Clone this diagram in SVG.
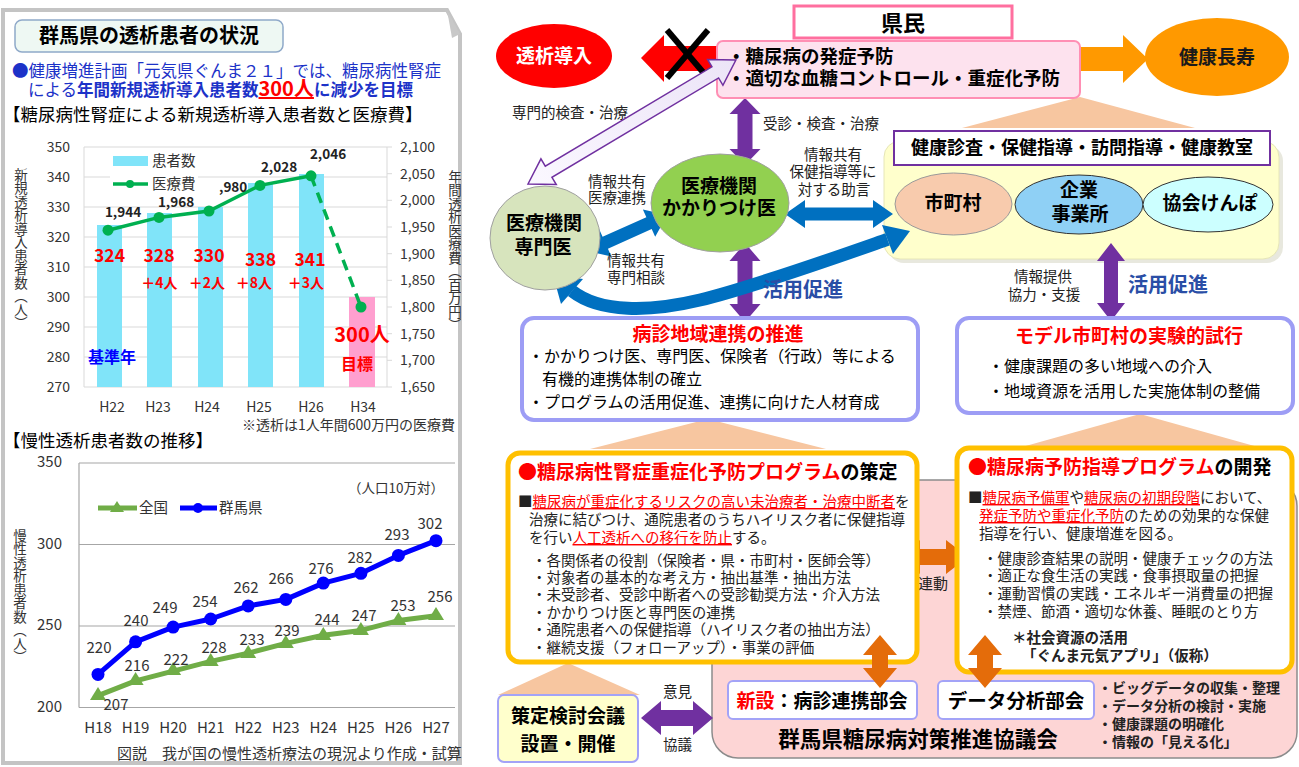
<svg xmlns="http://www.w3.org/2000/svg" width="1299" height="767" viewBox="0 0 1299 767">
<defs>
<style>
text{font-family:"Noto Sans CJK JP","Noto Sans CJK SC",sans-serif}
.b{font-weight:700}
.red{fill:#ff0000}
.ul{text-decoration:underline}
.ax{font-size:14px;fill:#333}
.num{font-size:15px;fill:#333}
.grid{stroke:#d9d9d9;stroke-width:1;fill:none}
.pur{fill:#7030a0}
.blu{fill:#0070c0}
.org{fill:#e46c0a}
.lav{fill:#fff;stroke:#9d9df5;stroke-width:4}
.yel{fill:#fff;stroke:#ffc000;stroke-width:5}
.tri{fill:#f7c6a0}
.vt{writing-mode:vertical-rl}
.lbl{font-size:14.5px;fill:#222}
.promo{font-size:20px;font-weight:700;fill:#2a4ea6}
</style>
<clipPath id="lp"><rect x="0" y="0" width="461" height="767"/></clipPath>
<linearGradient id="hol" x1="0" y1="0" x2="1" y2="0"><stop offset="0" stop-color="#fbf8ff"/><stop offset="1" stop-color="#ece4f7"/></linearGradient>
</defs>

<!-- LEFT PANEL -->
<g id="left-panel">
<path d="M3,10 H447 L460,34 V763 H3 Z" fill="#fff" stroke="#c4c4c4" stroke-width="4"/>
<path d="M447,10 L452,38 L460,34 Z" fill="#c8c8c8"/>
</g>
<g id="panel-title">
<rect x="15" y="20" width="268" height="32" rx="7" fill="#eef8f3" stroke="#8fa9c9" stroke-width="1.5"/>
<text x="149" y="43" text-anchor="middle" class="b" font-size="20">群馬県の透析患者の状況</text>
</g>
<g id="goal-text">
<text x="12" y="77" font-size="16.5" fill="#1c32c8">●健康増進計画「元気県ぐんま２１」では、糖尿病性腎症</text>
<text x="28" y="96" font-size="16.5" fill="#1c32c8">による<tspan class="b">年間新規透析導入患者数</tspan><tspan class="b red ul" font-size="20">300人</tspan><tspan class="b">に減少を目標</tspan></text>
<text x="3" y="121" font-size="17.5">【糖尿病性腎症による新規透析導入患者数と医療費】</text>
</g>

<g id="bar-chart" clip-path="url(#lp)">
<g class="grid">
<line x1="84" y1="147" x2="387" y2="147"/><line x1="84" y1="177" x2="387" y2="177"/><line x1="84" y1="207" x2="387" y2="207"/><line x1="84" y1="237" x2="387" y2="237"/><line x1="84" y1="267" x2="387" y2="267"/><line x1="84" y1="297" x2="387" y2="297"/><line x1="84" y1="327" x2="387" y2="327"/><line x1="84" y1="357" x2="387" y2="357"/><line x1="84" y1="387" x2="387" y2="387"/>
<line x1="84" y1="147" x2="84" y2="387"/><line x1="387" y1="147" x2="387" y2="387"/>
<line x1="387" y1="147" x2="392" y2="147"/><line x1="387" y1="173.7" x2="392" y2="173.7"/><line x1="387" y1="200.3" x2="392" y2="200.3"/><line x1="387" y1="227" x2="392" y2="227"/><line x1="387" y1="253.7" x2="392" y2="253.7"/><line x1="387" y1="280.3" x2="392" y2="280.3"/><line x1="387" y1="307" x2="392" y2="307"/><line x1="387" y1="333.7" x2="392" y2="333.7"/><line x1="387" y1="360.3" x2="392" y2="360.3"/><line x1="387" y1="387" x2="392" y2="387"/>
</g>
<g class="ax" text-anchor="end">
<text x="70" y="152">350</text><text x="70" y="182">340</text><text x="70" y="212">330</text><text x="70" y="242">320</text><text x="70" y="272">310</text><text x="70" y="302">300</text><text x="70" y="332">290</text><text x="70" y="362">280</text><text x="70" y="392">270</text>
</g>
<g class="ax">
<text x="400" y="152">2,100</text><text x="400" y="178.7">2,050</text><text x="400" y="205.3">2,000</text><text x="400" y="232">1,950</text><text x="400" y="258.7">1,900</text><text x="400" y="285.3">1,850</text><text x="400" y="312">1,800</text><text x="400" y="338.7">1,750</text><text x="400" y="365.3">1,700</text><text x="400" y="392">1,650</text>
</g>
<text x="21" y="168" class="vt" font-size="13.5" fill="#333">新規透析導入患者数（人）</text>
<text x="455" y="170" class="vt" font-size="13.5" fill="#333">年間透析医療費（百万円）</text>
<rect x="110" y="150" width="88" height="44" fill="#fff"/>
<g fill="#80e4f9">
<rect x="97" y="225" width="25" height="162"/><rect x="147" y="213" width="25" height="174"/><rect x="198" y="207" width="25" height="180"/><rect x="248" y="183" width="25" height="204"/><rect x="299" y="174" width="25" height="213"/>
<rect x="113" y="156" width="35" height="10"/>
</g>
<rect x="349" y="297" width="26" height="90" fill="#ff9fcf"/>
<text x="152" y="166" font-size="14.5" fill="#333">患者数</text>
<text x="152" y="189" font-size="14.5" fill="#333">医療費</text>
<line x1="113" y1="184" x2="148" y2="184" stroke="#00b050" stroke-width="3.5"/>
<circle cx="130" cy="184" r="4" fill="#00b050"/>
<polyline points="108,230.2 159,217.4 209,211 260,185.4 311,175.8" fill="none" stroke="#00b050" stroke-width="3.5"/>
<line x1="311" y1="175.8" x2="361" y2="307" stroke="#00b050" stroke-width="3.5" stroke-dasharray="11,7"/>
<g fill="#00b050">
<circle cx="108" cy="230.2" r="5.5"/><circle cx="159" cy="217.4" r="5.5"/><circle cx="209" cy="211" r="5.5"/><circle cx="260" cy="185.4" r="5.5"/><circle cx="311" cy="175.8" r="5.5"/><circle cx="361" cy="307" r="5.5"/>
</g>
<g class="b" font-size="13.5" fill="#222" text-anchor="middle">
<text x="123" y="217">1,944</text><text x="176" y="207">1,968</text><text x="279" y="172">2,028</text><text x="328" y="159">2,046</text>
</g>
<text x="219" y="192" class="b" font-size="13.5" fill="#222">,980</text>
<g class="b red" font-size="17.5" text-anchor="middle">
<text x="109.5" y="262">324</text><text x="159" y="262">328</text><text x="209" y="262">330</text><text x="260.5" y="266">338</text><text x="310" y="266">341</text>
</g>
<g class="b red" font-size="14" text-anchor="middle">
<text x="159.5" y="288">＋4人</text><text x="207" y="288">＋2人</text><text x="254" y="288">＋8人</text><text x="306" y="288">＋3人</text>
</g>
<text x="88" y="363" class="b" font-size="16" fill="#0000ff">基準年</text>
<text x="362" y="342" class="b red" font-size="20" text-anchor="middle">300人</text>
<text x="357" y="370" class="b red" font-size="16" text-anchor="middle">目標</text>
<g class="ax" text-anchor="middle">
<text x="112" y="412">H22</text><text x="158" y="412">H23</text><text x="207" y="412">H24</text><text x="259" y="412">H25</text><text x="311" y="412">H26</text><text x="363" y="412">H34</text>
</g>
<text x="242" y="430" font-size="14" fill="#333">※透析は1人年間600万円の医療費</text>
</g>

<g id="line-chart">
<text x="3" y="447" font-size="17.5">【慢性透析患者数の推移】</text>
<g stroke="#a6a6a6" stroke-width="1.2">
<line x1="79" y1="463" x2="455" y2="463"/><line x1="79" y1="544.5" x2="455" y2="544.5"/><line x1="79" y1="626" x2="455" y2="626"/><line x1="79" y1="707.5" x2="455" y2="707.5"/><line x1="79" y1="463" x2="79" y2="707.5"/>
</g>
<g class="num" text-anchor="end">
<text x="62" y="467">350</text><text x="62" y="549">300</text><text x="62" y="630">250</text><text x="62" y="712">200</text>
</g>
<text x="20" y="529" class="vt" font-size="13.5" fill="#333">慢性透析患者数（人）</text>
<text x="348" y="493" font-size="13.5" fill="#333">（人口10万対）</text>
<line x1="98" y1="508" x2="137" y2="508" stroke="#70ad47" stroke-width="5"/>
<polygon points="117,501 124,512 110,512" fill="#70ad47"/>
<text x="139" y="513" font-size="14.5" fill="#333">全国</text>
<line x1="180" y1="508" x2="217" y2="508" stroke="#0000ff" stroke-width="5"/>
<circle cx="198" cy="508" r="5" fill="#0000ff"/>
<text x="219" y="513" font-size="14.5" fill="#333">群馬県</text>
<polyline points="98,695.6 135.6,680.9 173.1,671.1 210.7,661.4 248.2,653.2 285.8,643.4 323.3,635.3 360.9,630.4 398.4,620.6 436,615.7" fill="none" stroke="#70ad47" stroke-width="5" stroke-linejoin="round"/>
<g fill="#70ad47">
<polygon points="98,687 106,700 90,700"/><polygon points="135.6,672 143.6,685 127.6,685"/><polygon points="173.1,662 181.1,675 165.1,675"/><polygon points="210.7,653 218.7,666 202.7,666"/><polygon points="248.2,645 256.2,658 240.2,658"/><polygon points="285.8,635 293.8,648 277.8,648"/><polygon points="323.3,627 331.3,640 315.3,640"/><polygon points="360.9,622 368.9,635 352.9,635"/><polygon points="398.4,612 406.4,625 390.4,625"/><polygon points="436,607 444,620 428,620"/>
</g>
<polyline points="98,674.4 135.6,641.8 173.1,627.1 210.7,619 248.2,605.9 285.8,599.4 323.3,583.1 360.9,573.3 398.4,555.4 436,540.7" fill="none" stroke="#0000ff" stroke-width="5" stroke-linejoin="round"/>
<g fill="#0000ff">
<circle cx="98" cy="674.4" r="6.5"/><circle cx="135.6" cy="641.8" r="6.5"/><circle cx="173.1" cy="627.1" r="6.5"/><circle cx="210.7" cy="619" r="6.5"/><circle cx="248.2" cy="605.9" r="6.5"/><circle cx="285.8" cy="599.4" r="6.5"/><circle cx="323.3" cy="583.1" r="6.5"/><circle cx="360.9" cy="573.3" r="6.5"/><circle cx="398.4" cy="555.4" r="6.5"/><circle cx="436" cy="540.7" r="6.5"/>
</g>
<g class="num" text-anchor="middle">
<text x="99" y="653">220</text><text x="136" y="626">240</text><text x="165" y="613">249</text><text x="205" y="607">254</text><text x="246" y="593">262</text><text x="281" y="584">266</text><text x="321" y="574">276</text><text x="360" y="563">282</text><text x="397" y="540">293</text><text x="430" y="529">302</text>
<text x="116" y="710">207</text><text x="137" y="671">216</text><text x="176" y="665">222</text><text x="214" y="653">228</text><text x="252" y="645">233</text><text x="287" y="636">239</text><text x="327" y="625">244</text><text x="364" y="621">247</text><text x="403" y="611">253</text><text x="440" y="602">256</text>
<text x="98" y="733">H18</text><text x="135.6" y="733">H19</text><text x="173.1" y="733">H20</text><text x="210.7" y="733">H21</text><text x="248.2" y="733">H22</text><text x="285.8" y="733">H23</text><text x="323.3" y="733">H24</text><text x="360.9" y="733">H25</text><text x="398.4" y="733">H26</text><text x="436" y="733">H27</text>
</g>
<text x="117" y="759" font-size="15" fill="#333">図説　我が国の慢性透析療法の現況より作成・試算</text>
</g>

<!-- RIGHT SIDE -->
<g id="spread-triangles" class="tri">
<polygon points="1080,97 962,128 1195,128"/>
<polygon points="708,419 590,449 826,449"/>
<polygon points="1140,414 1022,447 1258,447"/>
<polygon points="568,663 498,695 640,695"/>
</g>

<g id="kyogikai">
<rect x="712" y="480" width="585" height="278" rx="26" fill="#fdd5d5" stroke="#8c8c8c" stroke-width="1.5"/>
<text x="918" y="747" text-anchor="middle" class="b" font-size="21.5">群馬県糖尿病対策推進協議会</text>
</g>

<g id="node-hokenjigyo">
<rect x="888" y="145" width="395" height="118" rx="16" fill="#d8d8c8" opacity="0.6"/>
<rect x="884" y="141" width="395" height="118" rx="16" fill="#ffffcc" stroke="#e6e6b8" stroke-width="1"/>
<rect x="894" y="131" width="376" height="34" fill="#fff" stroke="#7030a0" stroke-width="2"/>
<text x="1082" y="154" text-anchor="middle" class="b" font-size="18">健康診査・保健指導・訪問指導・健康教室</text>
</g>
<g id="node-shichoson">
<ellipse cx="953.5" cy="204" rx="58.5" ry="31" fill="#f8cbad" stroke="#9a9a9a" stroke-width="1"/>
<text x="953" y="210" text-anchor="middle" class="b" font-size="19">市町村</text>
</g>
<g id="node-kigyo">
<ellipse cx="1079" cy="204.5" rx="64" ry="29.5" fill="#8fd0f5" stroke="#333" stroke-width="1"/>
<text x="1079" y="197" text-anchor="middle" class="b" font-size="19">企業</text>
<text x="1080" y="221" text-anchor="middle" class="b" font-size="19">事業所</text>
</g>
<g id="node-kyokai">
<ellipse cx="1208" cy="204.5" rx="65" ry="27.5" fill="#ccffff" stroke="#333" stroke-width="1"/>
<text x="1210" y="210" text-anchor="middle" class="b" font-size="19">協会けんぽ</text>
</g>

<g id="connectors">
<polygon class="red" points="641,58 664,35 664,46 720,46 720,71 664,71 664,82"/>
<polygon fill="#ff9900" points="1078,47 1123,47 1123,35 1148,59 1123,83 1123,71 1078,71"/>
<polygon class="pur" points="745,98 760.5,114 752.5,114 752.5,149 760.5,149 745,165 729.5,149 737.5,149 737.5,114 729.5,114"/>
<polygon class="pur" points="745,243 760.5,261 752.5,261 752.5,304 760.5,304 745,322 729.5,304 737.5,304 737.5,261 729.5,261"/>
<polygon class="pur" points="1111,243 1125,261 1118,261 1118,303 1125,303 1111,321 1097,303 1104,303 1104,261 1097,261"/>
<polygon class="pur" points="641,718 661,701 661,710 693,710 693,701 713,718 693,735 693,726 661,726 661,735"/>
<polygon class="blu" transform="translate(587,251) rotate(-24.2)" points="0,0 20,-15 20,-6.5 68,-6.5 68,-15 88,0 68,15 68,6.5 20,6.5 20,15"/>
<polygon class="blu" transform="translate(785,214)" points="0,0 20,-14 20,-6.5 88,-6.5 88,-14 108,0 88,14 88,6.5 20,6.5 20,14"/>
<path d="M572,291 C600,313 650,312 700,300 S840,256 887.5,239.4" fill="none" stroke="#0070c0" stroke-width="13"/>
<polygon class="blu" points="553,275 583,279 561,304"/>
<polygon class="blu" points="910,231 893,254 882,225"/>
<polygon class="org" points="898,557 920,540 920,549 946,549 946,540 968,557 946,574 946,565 920,565 920,574"/>
<text x="918" y="589" font-size="15" fill="#222">連動</text>
<text x="663" y="697" class="lbl">意見</text>
<text x="663" y="750" class="lbl">協議</text>
<text x="512" y="118" class="lbl">専門的検査・治療</text>
<text x="763" y="129" class="lbl">受診・検査・治療</text>
<text x="588" y="187" class="lbl">情報共有</text>
<text x="588" y="203" class="lbl">医療連携</text>
<text x="607" y="266" class="lbl">情報共有</text>
<text x="607" y="283" class="lbl">専門相談</text>
<text x="833" y="160" class="lbl" text-anchor="middle">情報共有</text>
<text x="833" y="177" class="lbl" text-anchor="middle">保健指導等に</text>
<text x="834" y="195" class="lbl" text-anchor="middle">対する助言</text>
<text x="1043" y="282" class="lbl" text-anchor="middle">情報提供</text>
<text x="1044" y="300" class="lbl" text-anchor="middle">協力・支援</text>
<text x="763" y="297" class="promo">活用促進</text>
<text x="1128" y="292" class="promo">活用促進</text>
</g>

<g id="node-dialysis">
<ellipse cx="554" cy="56" rx="58" ry="32" fill="#ff0000"/>
<text x="554" y="63" text-anchor="middle" class="b" font-size="19" fill="#fff">透析導入</text>
</g>
<g id="node-longevity">
<ellipse cx="1217" cy="57" rx="72" ry="39" fill="#ff9900"/>
<text x="1217" y="64" text-anchor="middle" class="b" font-size="19" fill="#1a1a1a">健康長寿</text>
</g>
<g id="node-kenmin">
<rect x="794" y="6" width="218" height="32" fill="#fff" stroke="#ff6f9f" stroke-width="3"/>
<text x="903" y="31" text-anchor="middle" class="b" font-size="22">県民</text>
</g>
<g id="node-prevention">
<rect x="717" y="41" width="363" height="57" rx="6" fill="#fde2ee" stroke="#ff8fb4" stroke-width="2"/>
<text x="727" y="63" class="b" font-size="18.5">・糖尿病の発症予防</text>
<text x="727" y="85" class="b" font-size="18.5">・適切な血糖コントロール・重症化予防</text>
</g>
<g id="cross">
<line x1="667" y1="30" x2="708" y2="78" stroke="#000" stroke-width="6"/>
<line x1="708" y1="30" x2="667" y2="78" stroke="#000" stroke-width="6"/>
</g>
<g id="hollow-arrow">
<polygon transform="translate(528,184) rotate(-30.8)" points="0,0 24,-15 24,-6.5 218,-6.5 218,-15 242,0 218,15 218,6.5 24,6.5 24,15" fill="url(#hol)" stroke="#7030a0" stroke-width="1.5"/>
</g>

<g id="node-kakaritsuke">
<ellipse cx="720" cy="203" rx="69" ry="49" fill="#92d050" stroke="#a0a0a0" stroke-width="1"/>
<text x="719" y="193" text-anchor="middle" class="b" font-size="19">医療機関</text>
<text x="719" y="215" text-anchor="middle" class="b" font-size="19">かかりつけ医</text>
</g>
<g id="node-senmon">
<ellipse cx="545" cy="238" rx="55" ry="52" fill="#d7e4bd" stroke="#a0a0a0" stroke-width="1"/>
<text x="544" y="230" text-anchor="middle" class="b" font-size="19">医療機関</text>
<text x="543" y="254" text-anchor="middle" class="b" font-size="19">専門医</text>
</g>

<g id="node-byoshin">
<rect x="522" y="318" width="396" height="102" rx="12" class="lav"/>
<text x="718" y="341" text-anchor="middle" class="b red" font-size="19">病診地域連携の推進</text>
<text x="528" y="362" font-size="16">・かかりつけ医、専門医、保険者（行政）等による</text>
<text x="542" y="385" font-size="16">有機的連携体制の確立</text>
<text x="528" y="408" font-size="16">・プログラムの活用促進、連携に向けた人材育成</text>
</g>
<g id="node-model">
<rect x="957" y="318" width="336" height="95" rx="12" class="lav"/>
<text x="1129" y="343" text-anchor="middle" class="b red" font-size="19">モデル市町村の実験的試行</text>
<text x="988" y="372" font-size="16">・健康課題の多い地域への介入</text>
<text x="988" y="397" font-size="16">・地域資源を活用した実施体制の整備</text>
</g>

<g id="node-program-jinsho">
<rect x="508" y="453" width="409" height="209" rx="12" class="yel"/>
<text x="518" y="479" class="b" font-size="19"><tspan class="red">●糖尿病性腎症重症化予防プログラム</tspan>の策定</text>
<g font-size="14.5" fill="#222">
<text x="518" y="507">■<tspan class="red ul">糖尿病が重症化するリスクの高い未治療者・治療中断者</tspan>を</text>
<text x="529" y="525">治療に結びつけ、通院患者のうちハイリスク者に保健指導</text>
<text x="529" y="543">を行い<tspan class="red ul">人工透析への移行を防止</tspan>する。</text>
<text x="532" y="566">・各関係者の役割（保険者・県・市町村・医師会等）</text>
<text x="532" y="583">・対象者の基本的な考え方・抽出基準・抽出方法</text>
<text x="532" y="600">・未受診者、受診中断者への受診勧奨方法・介入方法</text>
<text x="532" y="618">・かかりつけ医と専門医の連携</text>
<text x="532" y="635">・通院患者への保健指導（ハイリスク者の抽出方法）</text>
<text x="532" y="653">・継続支援（フォローアップ）・事業の評価</text>
</g>
</g>
<g id="node-program-yobo">
<rect x="957" y="448" width="335" height="224" rx="12" class="yel"/>
<text x="968" y="474" class="b" font-size="19"><tspan class="red">●糖尿病予防指導プログラム</tspan>の開発</text>
<g font-size="14.5" fill="#222">
<text x="968" y="503">■<tspan class="red ul">糖尿病予備軍</tspan>や<tspan class="red ul">糖尿病の初期段階</tspan>において、</text>
<text x="979" y="521"><tspan class="red ul">発症予防や重症化予防</tspan>のための効果的な保健</text>
<text x="979" y="539">指導を行い、健康増進を図る。</text>
<text x="983" y="564">・健康診査結果の説明・健康チェックの方法</text>
<text x="983" y="581">・適正な食生活の実践・食事摂取量の把握</text>
<text x="983" y="599">・運動習慣の実践・エネルギー消費量の把握</text>
<text x="983" y="617">・禁煙、節酒・適切な休養、睡眠のとり方</text>
<text x="1012" y="643" class="b">＊社会資源の活用</text>
<text x="1022" y="661" class="b">「ぐんま元気アプリ」（仮称）</text>
</g>
</g>

<g id="node-sakutei">
<rect x="498" y="695" width="140" height="67" rx="6" fill="#ffffcc" stroke="#a3a3f7" stroke-width="2"/>
<text x="568" y="723" text-anchor="middle" class="b" font-size="19">策定検討会議</text>
<text x="568" y="751" text-anchor="middle" class="b" font-size="19">設置・開催</text>
</g>
<g id="node-byoshin-bukai">
<rect x="728" y="681" width="189" height="38" rx="5" fill="#fff" stroke="#a3a3f7" stroke-width="2"/>
<text x="822" y="708" text-anchor="middle" class="b" font-size="19"><tspan class="red">新設</tspan>：病診連携部会</text>
</g>
<g id="node-data-bukai">
<rect x="938" y="681" width="156" height="38" rx="5" fill="#fff" stroke="#a3a3f7" stroke-width="2"/>
<text x="1016" y="708" text-anchor="middle" class="b" font-size="19.5">データ分析部会</text>
</g>
<g id="data-notes" class="b" font-size="14" fill="#222">
<text x="1098" y="693">・ビッグデータの収集・整理</text>
<text x="1098" y="711">・データ分析の検討・実施</text>
<text x="1098" y="729">・健康課題の明確化</text>
<text x="1098" y="747">・情報の「見える化」</text>
</g>

<g id="connectors-front">
<polygon class="org" points="880,635 897,655 888,655 888,668 897,668 880,688 863,668 872,668 872,655 863,655"/>
<polygon class="org" points="985,635 1002,655 993,655 993,668 1002,668 985,688 968,668 977,668 977,655 968,655"/>
</g>
</svg>
